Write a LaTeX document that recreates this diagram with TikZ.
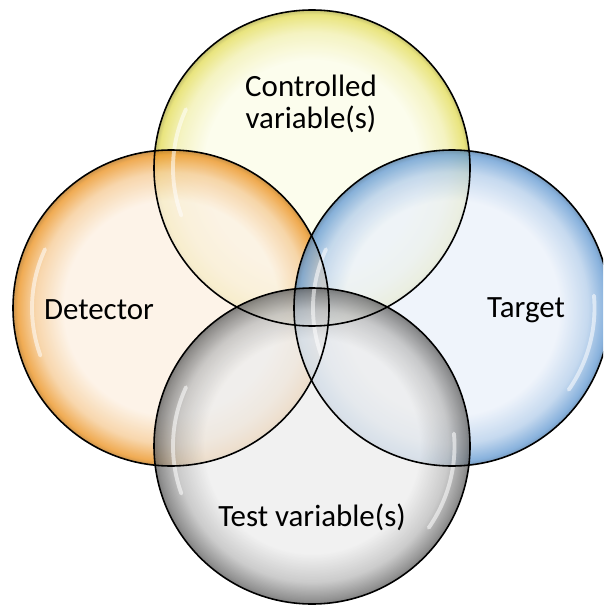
\documentclass[tikz,border=0pt]{standalone}
\usepackage{fontspec}
\setmainfont{Carlito}
\usepackage{tkz-euclide}
\tikzset{>=stealth}

\definecolor{ylwIn}{HTML}{FBFCE9}
\definecolor{ylwRim}{HTML}{E4DE5E}
\definecolor{orgIn}{HTML}{FCF0E2}
\definecolor{orgRim}{HTML}{EC9628}
\definecolor{bluIn}{HTML}{EBF1FA}
\definecolor{bluRim}{HTML}{6A9ED4}
\definecolor{gryIn}{HTML}{EDEDED}
\definecolor{gryRim}{HTML}{787878}

\newcommand\bubbleshade[3]{%
  \pgfdeclareradialshading{#1}{\pgfpointorigin}{color(0bp)=(#2); color(17bp)=(#2);
    color(21.5bp)=(#3!40!#2); color(24.3bp)=(#3); color(25bp)=(#3!80!black); color(50bp)=(#3)}}
\bubbleshade{bubY}{ylwIn}{ylwRim}
\bubbleshade{bubO}{orgIn}{orgRim}
\bubbleshade{bubB}{bluIn}{bluRim}
\bubbleshade{bubG}{gryIn}{gryRim}

\tikzset{
  rim/.style={draw=black, line width=0.9pt},
  gloss/.style={white, line width=2.2pt, line cap=round, opacity=.55},
  lbl/.style={font=\fontsize{17.6}{18.6}\selectfont, align=center, text=black}
}

\begin{document}
\begin{tikzpicture}
\useasboundingbox (0,0) rectangle (12.06,-12.16);
\clip (0,0) rectangle (12.06,-12.16);
\tkzDefPoints{6.24/-3.36/Y, 3.42/-6.16/O, 9.04/-6.16/B, 6.24/-8.92/G}
% bubbles
\foreach \c/\s in {Y/bubY, O/bubO, B/bubB, G/bubG}
  \shade[shading=\s, fill opacity=.8] (\c) circle (3.16);
% glossy streaks
\foreach \c in {Y, O, B, G}
  \draw[gloss] ([shift={(155:2.78)}]\c) arc (155:200:2.78);
\foreach \c in {B, G}
  \draw[gloss] ([shift={(-35:2.85)}]\c) arc (-35:5:2.85);
\foreach \c in {Y, O, B, G}
  \draw[rim] (\c) circle (3.16);
% labels
\node[lbl] (ctrl) at (6.22,-2.08) {Controlled\\variable(s)};
\node[lbl] (det) at (1.98,-6.2) {Detector};
\node[lbl] (tgt) at (10.52,-6.2) {Target};
\node[lbl] (test) at (6.24,-10.34) {Test variable(s)};
\end{tikzpicture}
\end{document}
